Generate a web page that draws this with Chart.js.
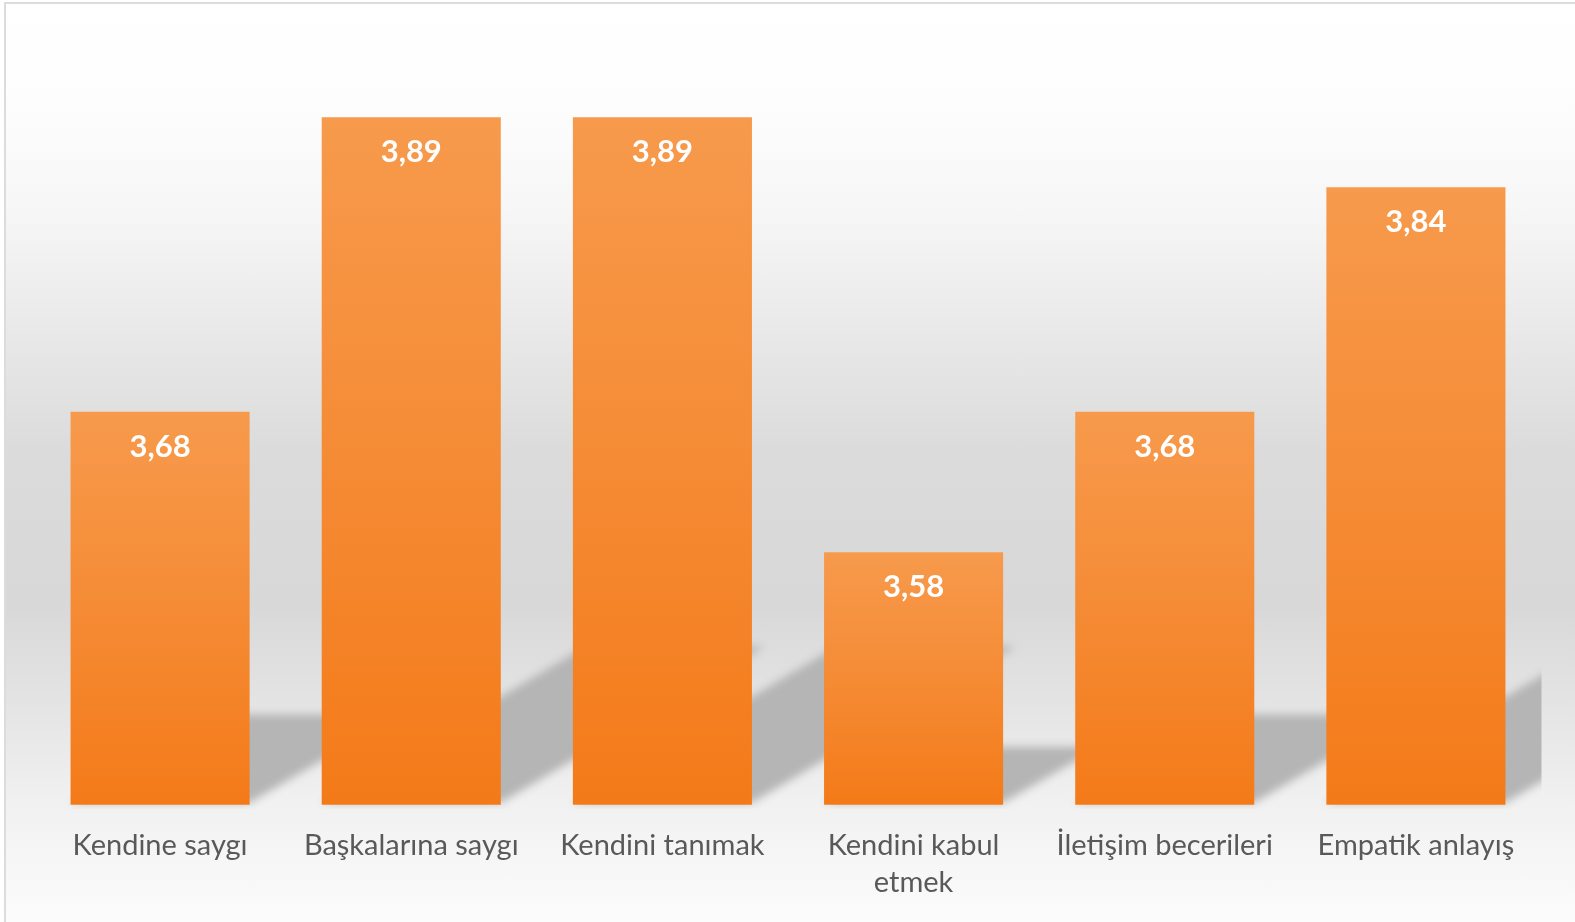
<!DOCTYPE html>
<html>
<head>
<meta charset="utf-8">
<script src="https://cdn.jsdelivr.net/npm/chart.js@4.4.0/dist/chart.umd.min.js"></script>
<style>
  html, body { margin: 0; padding: 0; background: #fff; overflow: hidden; }
  body { width: 1575px; height: 922px; position: relative; }
  #kutu {
    position: absolute; left: 4px; top: 2px; width: 1600px; height: 940px;
    border: 2px solid #dcdcdc;
    background: linear-gradient(to bottom, #ffffff 0px, #fdfdfd 100px, #f7f7f7 200px, #ececec 300px,
      #dbdbdb 450px, #d8d8d8 600px, #e4e4e4 700px, #f1f1f1 800px, #fcfcfc 920px);
  }
  #grafikAlani { position: absolute; left: 0; top: 0; width: 1569px; height: 911px; }
</style>
</head>
<body>
<div id="kutu">
  <div id="grafikAlani"><canvas id="grafik"></canvas></div>
</div>
<script>
// Veriler
const kategoriler = ['Kendine saygı', 'Başkalarına saygı', 'Kendini tanımak', ['Kendini kabul', 'etmek'], 'İletişim becerileri', 'Empatik anlayış'];
const degerler = [3.68, 3.89, 3.89, 3.58, 3.68, 3.84];
const eksenMin = 3.4;
const eksenMax = 3.95;

// Çubuk rengi: her çubukta üstten alta degrade
function cubukRengi(context) {
    const chart = context.chart;
    const area = chart.chartArea;
    if (!area) return '#f58a33';
    const y = chart.scales.y;
    const ust = y.getPixelForValue(context.raw);
    const alt = y.getPixelForValue(eksenMin);
    const g = chart.ctx.createLinearGradient(0, ust, 0, alt);
    g.addColorStop(0, '#f79a4c');
    g.addColorStop(0.5, '#f58b35');
    g.addColorStop(1, '#f47a18');
    return g;
}

// Perspektif gölge (sağ üst çapraz)
const golgeEklentisi = {
    id: 'golge',
    beforeDatasetsDraw(chart) {
        const ctx = chart.ctx;
        const area = chart.chartArea;
        const meta = chart.getDatasetMeta(0);
        const taban = chart.scales.y.getPixelForValue(eksenMin);
        const kaydir = 5000;
        ctx.save();
        ctx.beginPath();
        ctx.rect(area.left, 0, area.right - area.left, taban + 4);
        ctx.clip();
        ctx.fillStyle = '#000';
        ctx.shadowColor = '#b5b5b5';
        ctx.shadowBlur = 8;
        ctx.shadowOffsetX = kaydir;
        meta.data.forEach(bar => {
            const h = taban - bar.y;
            const sol = bar.x - bar.width / 2 - kaydir;
            const sag = bar.x + bar.width / 2 - kaydir;
            const dy = h * 0.23;
            const dx = dy / 0.6;
            ctx.beginPath();
            ctx.moveTo(sol, taban - 2);
            ctx.lineTo(sag, taban - 2);
            ctx.lineTo(sag + dx, taban - dy);
            ctx.lineTo(sol + dx, taban - dy);
            ctx.closePath();
            ctx.fill();
        });
        ctx.restore();
    }
};

// Değer etiketleri
const etiketEklentisi = {
    id: 'etiketler',
    afterDatasetsDraw(chart) {
        const ctx = chart.ctx;
        const meta = chart.getDatasetMeta(0);
        ctx.save();
        ctx.fillStyle = '#ffffff';
        ctx.font = 'bold 31px Lato';
        ctx.textAlign = 'center';
        ctx.textBaseline = 'middle';
        meta.data.forEach((bar, i) => {
            ctx.fillText(degerler[i].toFixed(2).replace('.', ','), bar.x, bar.y + 35);
        });
        ctx.restore();
    }
};

const ctx = document.getElementById('grafik').getContext('2d');
new Chart(ctx, {
    type: 'bar',
    data: {
        labels: kategoriler,
        datasets: [{
            data: degerler,
            backgroundColor: cubukRengi,
            borderWidth: 0,
            categoryPercentage: 1,
            barPercentage: 0.713
        }]
    },
    options: {
        responsive: true,
        maintainAspectRatio: false,
        animation: false,
        layout: { padding: { left: 28.5, right: 33.5, top: 29, bottom: 0 } },
        plugins: {
            legend: { display: false },
            tooltip: { enabled: false }
        },
        scales: {
            y: {
                display: false,
                min: eksenMin,
                max: eksenMax
            },
            x: {
                grid: { display: false },
                border: { display: false },
                ticks: {
                    color: '#595959',
                    padding: 14,
                    maxRotation: 0,
                    autoSkip: false,
                    font: { family: 'Lato', size: 29, lineHeight: 1.28 }
                }
            }
        }
    },
    plugins: [golgeEklentisi, etiketEklentisi]
});
</script>
</body>
</html>
